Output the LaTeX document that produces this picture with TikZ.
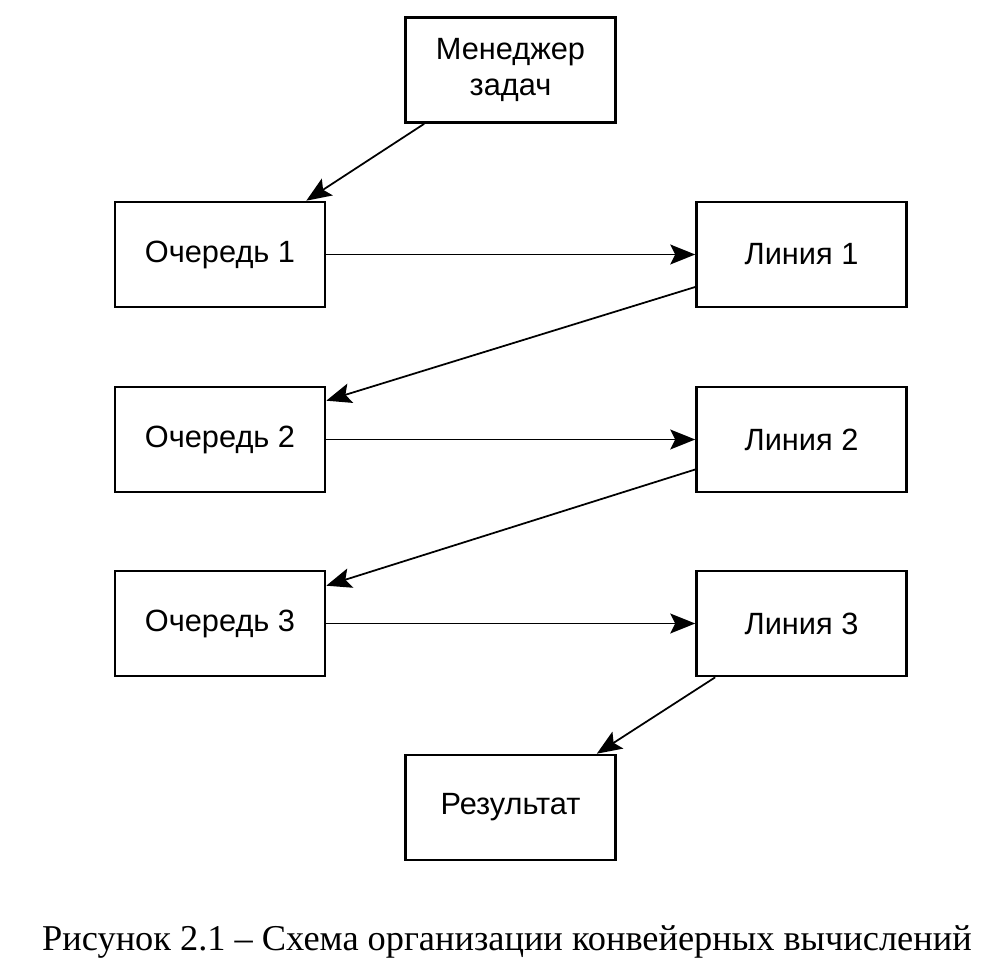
\documentclass[tikz,border=0pt]{standalone}
\usepackage{fontspec}
\setmainfont{Liberation Serif}
\newfontfamily\boxfont{Liberation Sans}
\usetikzlibrary{arrows.meta}
\begin{document}
\begin{tikzpicture}[x=0.02cm,y=-0.02cm,
  blk/.style={draw,line width=1.5pt,minimum width=4.2cm,minimum height=2.1cm,inner sep=0pt,font=\boxfont\fontsize{17.5}{21}\selectfont,align=center},
  conn/.style={line width=1pt,-{Stealth[length=0.5cm,width=0.4cm,inset=0.1cm]}}]
\useasboundingbox (0,0) rectangle (1000,972);
\node[blk] (m) at (510.5,70) {Менеджер\\задач};
\node[blk] (q1) at (220,254.5) {Очередь 1};
\node[blk] (l1) at (801.5,254.5) {Линия 1};
\node[blk] (q2) at (220,439.5) {Очередь 2};
\node[blk] (l2) at (801.5,439.5) {Линия 2};
\node[blk] (q3) at (220,623.5) {Очередь 3};
\node[blk] (l3) at (801.5,623.5) {Линия 3};
\node[blk] (r) at (510.5,807.5) {Результат};
\draw[conn] ([xshift=0.4cm]m.south west) -- ([xshift=-0.4cm]q1.north east);
\draw[conn] (q1.east) -- (l1.west);
\draw[conn] ([yshift=-0.65cm]l1.west) -- ([yshift=-0.3cm]q2.north east);
\draw[conn] (q2.east) -- (l2.west);
\draw[conn] ([yshift=-0.6cm]l2.west) -- ([yshift=-0.32cm]q3.north east);
\draw[conn] (q3.east) -- (l3.west);
\draw[conn] ([xshift=0.4cm]l3.south west) -- ([xshift=-0.4cm]r.north east);
\node[anchor=base,font=\fontsize{20.7}{25}\selectfont] (cap) at (507,950) {Рисунок 2.1 – Схема организации конвейерных вычислений};
\end{tikzpicture}
\end{document}
